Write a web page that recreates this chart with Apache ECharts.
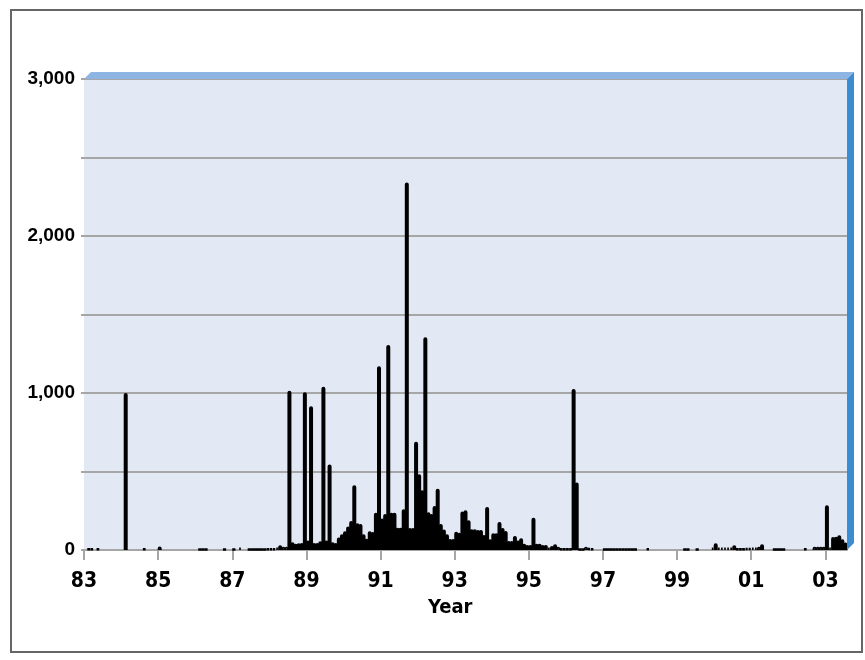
<!DOCTYPE html>
<html><head><meta charset="utf-8">
<script src="https://cdn.jsdelivr.net/npm/echarts@6/dist/echarts.min.js"></script>
<style>html,body{margin:0;padding:0;background:#fff}#c{width:865px;height:660px}</style>
</head><body><div id="c"></div>
<script>
// Monthly values (Jan..Dec) per year
const v1983 = [0, 8, 8, 0, 8, 0, 0, 0, 0, 0, 0, 0];
const v1984 = [0, 1000, 0, 0, 0, 0, 0, 8, 0, 0, 0, 0];
const v1985 = [22, 0, 0, 0, 0, 0, 0, 0, 0, 0, 0, 0];
const v1986 = [0, 5, 5, 5, 0, 0, 0, 0, 0, 5, 0, 0];
const v1987 = [5, 0, 15, 0, 0, 5, 5, 5, 5, 5, 5, 10];
const v1988 = [10, 10, 15, 30, 20, 20, 1015, 50, 40, 43, 45, 1005];
const v1989 = [60, 915, 45, 45, 55, 1040, 60, 545, 50, 45, 80, 100];
const v1990 = [120, 150, 185, 413, 170, 165, 100, 72, 120, 115, 238, 1170];
const v1991 = [200, 230, 1306, 238, 238, 142, 142, 260, 2340, 140, 140, 690];
const v1992 = [483, 380, 1355, 240, 230, 280, 390, 165, 130, 100, 70, 70];
const v1993 = [117, 110, 245, 253, 190, 132, 132, 128, 128, 96, 274, 68];
const v1994 = [106, 106, 179, 140, 121, 57, 57, 89, 60, 75, 40, 32];
const v1995 = [32, 206, 40, 40, 32, 32, 15, 25, 36, 21, 8, 8];
const v1996 = [8, 8, 1025, 430, 5, 5, 21, 12, 10, 0, 0, 0];
const v1997 = [5, 5, 5, 5, 5, 5, 5, 5, 5, 5, 5, 0];
const v1998 = [0, 0, 10, 0, 0, 0, 0, 0, 0, 0, 0, 0];
const v1999 = [0, 0, 5, 5, 0, 0, 5, 0, 0, 0, 0, 15];
const v2000 = [43, 15, 15, 15, 15, 15, 30, 8, 8, 8, 12, 12];
const v2001 = [15, 15, 20, 36, 0, 0, 0, 5, 5, 5, 5, 0];
const v2002 = [0, 0, 0, 0, 0, 8, 0, 0, 20, 20, 20, 20];
const v2003 = [285, 15, 83, 85, 94, 68, 47];

const startYear = 1983;
const yearSeries = [v1983, v1984, v1985, v1986, v1987, v1988, v1989, v1990, v1991, v1992,
  v1993, v1994, v1995, v1996, v1997, v1998, v1999, v2000, v2001, v2002, v2003];
const xTickLabels = ['83', '85', '87', '89', '91', '93', '95', '97', '99', '01', '03'];
const yTickValues = [0, 1000, 2000, 3000];
const xTitle = 'Year';

const totalMonths = yearSeries.reduce((s, a) => s + a.length, 0);
const barData = [];
yearSeries.forEach((arr, yi) => {
  arr.forEach((v, mi) => {
    if (v > 0) barData.push([(yi * 12 + mi + 0.5) / 12, v]);
  });
});
const xTickPositions = xTickLabels.map((_, i) => i * 2);

const chart = echarts.init(document.getElementById('c'), null, {renderer: 'canvas'});
const G = {left: 84, top: 79, right: 18, bottom: 110};
const W = 865, H = 660;
const gx0 = G.left, gy0 = G.top, gx1 = W - G.right, gy1 = H - G.bottom;
const d = 7;

chart.setOption({
  animation: false,
  backgroundColor: '#ffffff',
  grid: {left: G.left, top: G.top, right: G.right, bottom: G.bottom, show: true,
    backgroundColor: '#e2e8f4', borderWidth: 0},
  xAxis: {
    type: 'value', min: 0, max: totalMonths / 12, interval: 2,
    axisLine: {show: true, onZero: false, lineStyle: {color: '#a6a6a6', width: 2}},
    axisTick: {show: true, length: 10, customValues: xTickPositions, lineStyle: {color: '#a6a6a6', width: 2}},
    axisLabel: {customValues: xTickPositions, margin: 21,
      formatter: v => { const i = Math.round(v / 2); return (Math.abs(v - i * 2) < 1e-6 && xTickLabels[i]) ? xTickLabels[i] : ''; },
      fontFamily: '"Liberation Sans Narrow", "DejaVu Sans Condensed", "Liberation Sans", sans-serif', fontWeight: 'bold', fontSize: 21, color: '#000'},
    splitLine: {show: false}
  },
  yAxis: {
    type: 'value', min: 0, max: 3000, interval: 500,
    axisLine: {show: false},
    axisTick: {show: true, length: 3, lineStyle: {color: '#a6a6a6', width: 2}},
    axisLabel: {margin: 9, fontFamily: '"Liberation Sans", Arial, sans-serif', fontWeight: 'bold', fontSize: 19, color: '#000',
      formatter: v => yTickValues.indexOf(v) >= 0 ? v.toLocaleString('en-US') : ''},
    splitLine: {show: true, lineStyle: {color: '#a6a6a6', width: 2}}
  },
  series: [{
    type: 'bar', data: barData, barWidth: 4, clip: true,
    itemStyle: {color: '#c8c8c8', borderColor: '#000000', borderWidth: 2.5, borderRadius: [1.5, 1.5, 0, 0]}
  }],
  graphic: [
    {type: 'polygon', z: 100, shape: {points: [[gx0, gy0], [gx0 + d, gy0 - d], [gx1 + d, gy0 - d], [gx1, gy0]]},
      style: {fill: '#8db4e2'}},
    {type: 'polygon', z: 100, shape: {points: [[gx1, gy0], [gx1 + d, gy0 - d], [gx1 + d, gy1 - d], [gx1, gy1]]},
      style: {fill: '#3d8bd1'}},
    {type: 'text', z: 100, left: 428, top: 598, style: {text: xTitle, fill: '#000',
      font: 'bold 20px "Liberation Sans Narrow", "DejaVu Sans Condensed", "Liberation Sans", Arial, sans-serif'}},
    {type: 'rect', z: 100, shape: {x: 11, y: 10, width: 851, height: 642},
      style: {fill: 'none', stroke: '#666666', lineWidth: 2}}
  ]
});
</script></body></html>
